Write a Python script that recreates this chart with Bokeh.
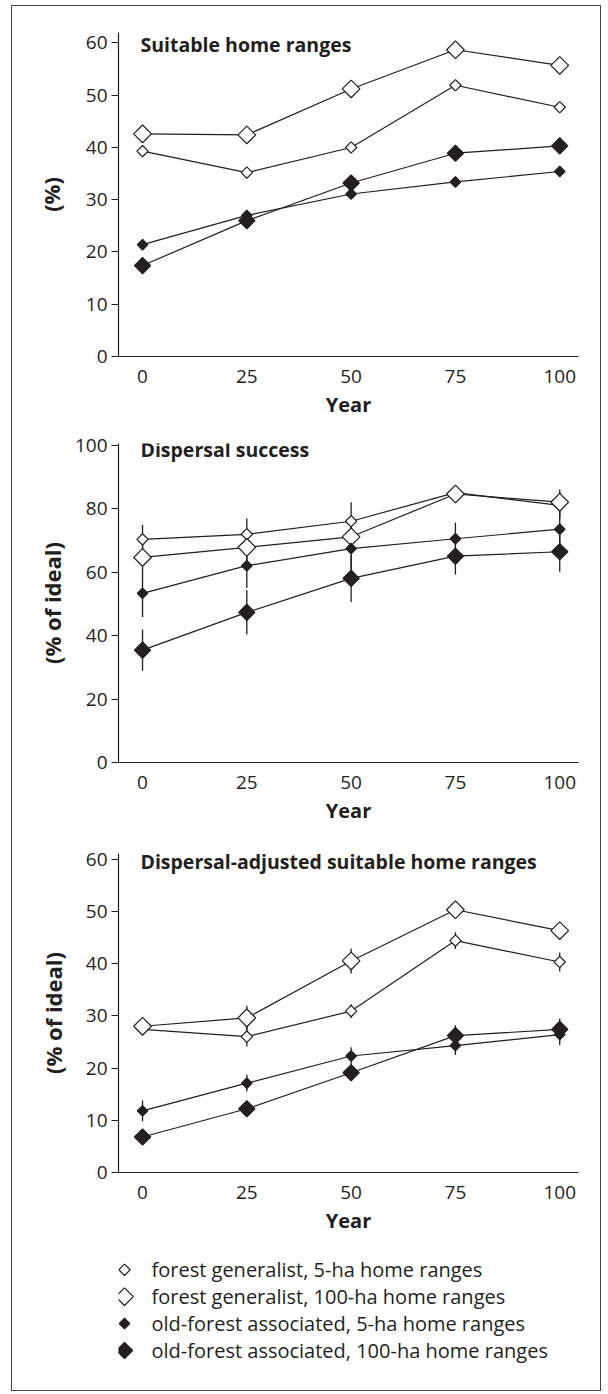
from bokeh.plotting import figure
from bokeh.layouts import column
from bokeh.models import Range1d, FixedTicker, Label, ColumnDataSource
from bokeh.embed import file_html
from bokeh.resources import INLINE
from bokeh.core.properties import value
import numpy as np

FONT = "Open Sans"
INK = "#231f20"

years = [0, 25, 50, 75, 100]
x_ticks = [0, 25, 50, 75, 100]

series_labels = [
    "forest generalist, 5-ha home ranges",
    "forest generalist, 100-ha home ranges",
    "old-forest associated, 5-ha home ranges",
    "old-forest associated, 100-ha home ranges",
]

# Panel 1: Suitable home ranges (%)
suit_fg5 = [39.3, 35.2, 40.0, 51.9, 47.7]
suit_fg100 = [42.6, 42.4, 51.2, 58.7, 55.7]
suit_of5 = [21.4, 27.0, 31.1, 33.4, 35.4]
suit_of100 = [17.4, 26.0, 33.2, 38.9, 40.3]

# Panel 2: Dispersal success (% of ideal) with error bars
disp_fg5 = [70.3, 71.9, 76.0, 85.0, 81.0]
disp_fg100 = [64.6, 67.8, 71.1, 84.6, 82.0]
disp_of5 = [53.3, 62.0, 67.4, 70.5, 73.5]
disp_of100 = [35.4, 47.3, 58.0, 65.0, 66.4]
disp_fg5_err = [4.5, 5.0, 6.0, 2.0, 4.0]
disp_fg100_err = [4.0, 4.0, 4.5, 2.5, 4.0]
disp_of5_err = [7.5, 7.0, 7.5, 5.0, 5.0]
disp_of100_err = [6.5, 7.0, 7.4, 5.8, 6.3]

# Panel 3: Dispersal-adjusted suitable home ranges (% of ideal)
adj_fg5 = [27.4, 26.0, 30.9, 44.4, 40.3]
adj_fg100 = [28.0, 29.6, 40.5, 50.3, 46.3]
adj_of5 = [11.8, 17.1, 22.3, 24.3, 26.4]
adj_of100 = [6.8, 12.2, 19.1, 26.2, 27.4]
adj_fg5_err = [1.0, 1.9, 1.3, 1.6, 1.8]
adj_fg100_err = [1.0, 2.3, 2.4, 1.2, 1.2]
adj_of5_err = [2.0, 1.6, 1.7, 1.8, 2.0]
adj_of100_err = [1.2, 1.0, 1.5, 2.0, 2.1]

# marker styles: (size, fill)
styles = [
    dict(size=8, fill_color="white"),
    dict(size=12.5, fill_color="white"),
    dict(size=7.5, fill_color=INK),
    dict(size=11.5, fill_color=INK),
]

W = 588
MB_LEFT = 106
MB_RIGHT = 22


def make_panel(height, mb_top, mb_bottom, ytop, yticks, ylabel, ylabel_standoff,
               title, title_y, series, errors=None):
    p = figure(width=W, height=height, x_range=Range1d(-5.76, 104.5),
               y_range=Range1d(0, ytop), output_backend="svg",
               toolbar_location=None, min_border_left=MB_LEFT, min_border_right=MB_RIGHT,
               min_border_top=mb_top, min_border_bottom=mb_bottom)
    p.title.visible = False
    p.outline_line_color = None
    p.grid.visible = False
    p.background_fill_color = "white"
    p.border_fill_color = "white"

    p.xaxis.ticker = FixedTicker(ticks=x_ticks)
    p.yaxis.ticker = FixedTicker(ticks=yticks)
    for ax in (p.xaxis[0], p.yaxis[0]):
        ax.axis_line_color = INK
        ax.axis_line_width = 1.2
        ax.major_tick_line_color = INK
        ax.major_tick_line_width = 1.2
        ax.minor_tick_line_color = None
        ax.major_label_text_font = FONT
        ax.major_label_text_font_size = "19px"
        ax.major_label_text_color = INK
        ax.axis_label_text_font = FONT
        ax.axis_label_text_font_style = "bold"
        ax.axis_label_text_color = INK
    p.xaxis.axis_label_text_font_size = "20px"
    p.yaxis.axis_label_text_font_size = "22px"
    p.xaxis.major_tick_out = 0
    p.xaxis.major_tick_in = 0
    p.xaxis.major_label_standoff = 13
    p.xaxis.axis_label = "Year"
    p.xaxis.axis_label_standoff = 5
    p.yaxis.major_tick_out = 7
    p.yaxis.major_tick_in = 0
    p.yaxis.major_label_standoff = 4
    p.yaxis.axis_label = ylabel
    p.yaxis.axis_label_standoff = ylabel_standoff

    if errors is not None:
        for vals, errs in zip(series, errors):
            lo = [v - e for v, e in zip(vals, errs)]
            hi = [v + e for v, e in zip(vals, errs)]
            p.segment(x0=years, y0=lo, x1=years, y1=hi, line_color=INK, line_width=1.3)

    for vals in series:
        p.line(years, vals, line_color=INK, line_width=1.2)

    for vals, st in zip(series, styles):
        p.scatter(years, vals, marker="square", angle=np.pi / 4, size=st["size"],
                  fill_color=st["fill_color"], line_color=INK, line_width=1.2)

    p.add_layout(Label(x=-0.5, y=title_y, text=title, text_font=FONT,
                       text_font_style="bold", text_font_size="19.5px",
                       text_color=INK, text_baseline="middle", text_align="left"))
    return p


p1 = make_panel(419, 26, 69, 62.0, [0, 10, 20, 30, 40, 50, 60], "(%)", 17,
                "Suitable home ranges", 59.7,
                [suit_fg5, suit_fg100, suit_of5, suit_of100])
p2 = make_panel(410, 18, 73, 100.5, [0, 20, 40, 60, 80, 100], "(% of ideal)", 5,
                "Dispersal success", 98.6,
                [disp_fg5, disp_fg100, disp_of5, disp_of100],
                [disp_fg5_err, disp_fg100_err, disp_of5_err, disp_of100_err])
p3 = make_panel(405, 18, 68, 61.07, [0, 10, 20, 30, 40, 50, 60], "(% of ideal)", 15,
                "Dispersal-adjusted suitable home ranges", 59.6,
                [adj_fg5, adj_fg100, adj_of5, adj_of100],
                [adj_fg5_err, adj_fg100_err, adj_of5_err, adj_of100_err])

# Legend figure (its frame is aligned with the panels' frames by the column)
rows = list(range(len(series_labels)))
pl = figure(width=W, height=150, x_range=Range1d(0, W - MB_LEFT - MB_RIGHT),
            y_range=Range1d(4.487, -1.089),
            output_backend="svg", toolbar_location=None, x_axis_type=None,
            y_axis_type=None, min_border_left=MB_LEFT, min_border_right=MB_RIGHT,
            min_border_top=0, min_border_bottom=0)
pl.title.visible = False
pl.outline_line_color = None
pl.grid.visible = False
leg_src = ColumnDataSource(dict(
    x=[6] * len(rows), tx=[33] * len(rows), y=rows, label=series_labels,
    size=[s["size"] for s in styles], fill=[s["fill_color"] for s in styles]))
pl.scatter("x", "y", source=leg_src, marker="square", angle=np.pi / 4, size="size",
           fill_color="fill", line_color=INK, line_width=1.2)
pl.text("tx", "y", text="label", source=leg_src, text_font=value(FONT),
        text_font_size="20px", text_color=INK, text_baseline="middle", text_align="left")

layout = column(p1, p2, p3, pl,
                styles={"border": "1px solid #444444", "margin-left": "11px",
                        "margin-top": "5px"})

open("out.html", "w").write(file_html(layout, INLINE))
